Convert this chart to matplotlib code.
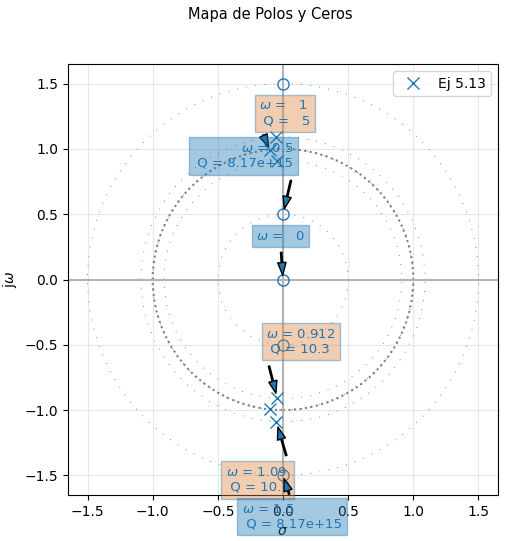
import numpy as np
import matplotlib.pyplot as plt
import matplotlib.patches as patches

# polos: frecuencia natural y factor de calidad
pole_w = [1.0, 0.912, 1.09]
pole_q = [5.0, 10.3, 10.7]
# ceros sobre el eje jw
zero_w = [0.0, 0.5, 1.5]
zero_q = [np.nan, 8.17e15, 8.17e15]
legend_label = 'Ej 5.13'

# polos y ceros complejos (pares conjugados)
poles = []
for w, q in zip(pole_w, pole_q):
    s = -w / (2 * q)
    poles += [complex(s, np.sqrt(w**2 - s**2)), complex(s, -np.sqrt(w**2 - s**2))]
zeros = []
for w in zero_w:
    zeros += [complex(0, w)] if w == 0 else [complex(0, w), complex(0, -w)]
poles = np.array(poles)
zeros = np.array(zeros)

fig = plt.figure(figsize=(5.06, 5.41), dpi=100)
ax = fig.add_axes([68/506, 1-495/541, 430/506, 431/541])

# circulo unitario y ejes
ax.add_patch(patches.Circle((0, 0), radius=1, fill=False, color='gray', ls=':', lw=1.5))
ax.axvline(0, color='0.7', lw=1.5)
ax.axhline(0, color='0.7', lw=1.5)

for r in pole_w + zero_w[1:]:
    ax.add_patch(patches.Circle((0, 0), radius=r, fill=False, color='C0',
                                ls=(0, (1, 10)), lw=0.6))

ax.plot(poles.real, poles.imag, 'x', color='C0', ms=8, label=legend_label)
ax.plot(zeros.real, zeros.imag, 'o', color='C0', ms=8, fillstyle='none')

arrow = dict(facecolor='C0', edgecolor='k', width=1, headwidth=6, headlength=9, shrink=0.12)

# anotaciones de polos
pole_targets = [poles[0], poles[3], poles[5]]
pole_text_pos = [(0.015, 1.273), (0.138, -0.477), (-0.196, -1.535)]
for w, q, p, pos in zip(pole_w, pole_q, pole_targets, pole_text_pos):
    ax.annotate('$\\omega$ = {:3.3g}\n Q = {:3.3g}'.format(w, q),
                xy=(p.real, p.imag), xytext=pos, textcoords='data',
                ha='center', va='center', multialignment='left', color='C0', fontsize=9.5,
                bbox=dict(boxstyle='square,pad=0.35', fc='#de843e', ec='C0', alpha=0.4),
                arrowprops=arrow)

# anotaciones de ceros
zero_targets = [complex(0, 0), complex(0, 0.5), complex(0, -1.5)]
zero_text_pos = [(-0.019, 0.331), (-0.304, 0.946), (0.069, -1.815)]
zero_align = ['left', 'right', 'left']
for w, q, z, pos, al in zip(zero_w, zero_q, zero_targets, zero_text_pos, zero_align):
    if w == 0:
        txt = '$\\omega$ = {:3.3g}'.format(w)
    else:
        txt = '$\\omega$ = {:3.3g}\n Q = {:3.3g}'.format(w, q)
    ax.annotate(txt, xy=(z.real, z.imag), xytext=pos, textcoords='data',
                ha='center', va='center', multialignment=al, color='C0', fontsize=9.5,
                bbox=dict(boxstyle='square,pad=0.35', fc='C0', ec='C0', alpha=0.4),
                arrowprops=arrow)

ax.set_xlim(-1.65, 1.65)
ax.set_ylim(-1.65, 1.65)
ax.set_xlabel('$\\sigma$')
ax.set_ylabel('j$\\omega$')
ax.grid(True, color='0.9')
ax.set_axisbelow(True)
ax.legend(loc='upper right')

fig.text(270/506, 1 - 15/541, 'Mapa de Polos y Ceros', ha='center', va='center', fontsize=10.5)

plt.savefig('out.png', dpi=100)
